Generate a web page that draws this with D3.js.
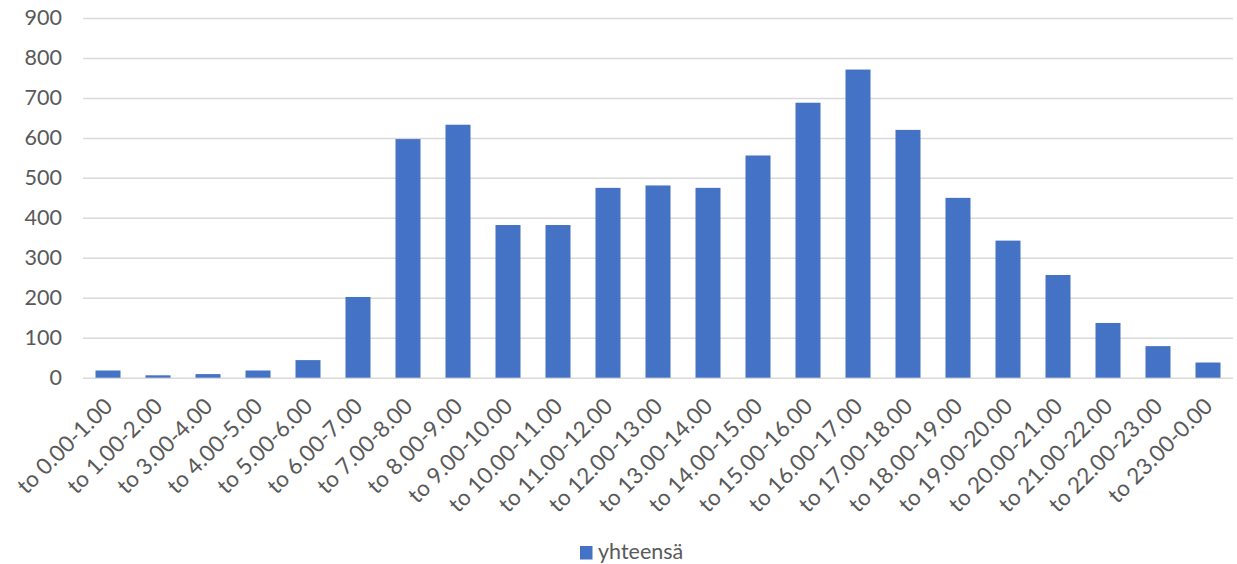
<!DOCTYPE html>
<html>
<head>
<meta charset="utf-8">
<script src="https://cdn.jsdelivr.net/npm/d3@7"></script>
<style>
  html, body { margin: 0; padding: 0; background: #fff; }
  svg { display: block; font-family: Lato, "Open Sans", sans-serif; }
</style>
</head>
<body>
<svg id="chart" width="1237" height="564"></svg>
<script>
// Hourly totals
const categories = [
  "to 0.00-1.00", "to 1.00-2.00", "to 3.00-4.00", "to 4.00-5.00", "to 5.00-6.00",
  "to 6.00-7.00", "to 7.00-8.00", "to 8.00-9.00", "to 9.00-10.00", "to 10.00-11.00",
  "to 11.00-12.00", "to 12.00-13.00", "to 13.00-14.00", "to 14.00-15.00", "to 15.00-16.00",
  "to 16.00-17.00", "to 17.00-18.00", "to 18.00-19.00", "to 19.00-20.00", "to 20.00-21.00",
  "to 21.00-22.00", "to 22.00-23.00", "to 23.00-0.00"
];
const values = [
  18, 6, 9, 18, 44,
  202, 597, 633, 382, 382,
  475, 481, 475, 556, 688,
  771, 620, 450, 343, 257,
  137, 79, 38
];
const yTicks = [0, 100, 200, 300, 400, 500, 600, 700, 800, 900];
const seriesName = "yhteensä";

const svg = d3.select("#chart");
const margin = { left: 83, right: 4, top: 18, bottom: 187 };
const W = 1237, H = 564;
const barColor = "#4472C4";
const textColor = "#595959";
const gridColor = "#d9d9d9";
const fontSize = 21.5;

const x = d3.scaleBand()
  .domain(categories)
  .range([margin.left, W - margin.right])
  .paddingInner(0.5)
  .paddingOuter(0.25);

const y = d3.scaleLinear()
  .domain([0, 900])
  .range([H - margin.bottom + 0.7, margin.top]);

// Horizontal gridlines and value labels
const yAxis = d3.axisLeft(y)
  .tickValues(yTicks)
  .tickSize(-(W - margin.right - margin.left))
  .tickPadding(21);

const gy = svg.append("g")
  .attr("transform", `translate(${margin.left},0)`)
  .call(yAxis);
gy.select(".domain").remove();
gy.selectAll(".tick line").attr("stroke", gridColor).attr("stroke-width", 1.5);
gy.selectAll(".tick text")
  .attr("fill", textColor)
  .attr("font-size", fontSize)
  .attr("font-family", "Lato, sans-serif");

// Bars
svg.append("g")
  .selectAll("rect")
  .data(values)
  .join("rect")
  .attr("x", (d, i) => x(categories[i]))
  .attr("width", x.bandwidth())
  .attr("y", d => y(d))
  .attr("height", d => y(0) - y(d))
  .attr("fill", barColor);

// Category axis with rotated labels
const xAxis = d3.axisBottom(x).tickSize(0).tickPadding(0);
const gx = svg.append("g")
  .attr("transform", `translate(0,${y(0)})`)
  .call(xAxis);
gx.select(".domain").remove();
gx.selectAll(".tick text")
  .attr("fill", textColor)
  .attr("font-size", 22.5)
  .attr("font-family", "Lato, sans-serif")
  .attr("text-anchor", "end")
  .attr("dy", 0)
  .attr("transform", "translate(6,30) rotate(-45)");

// Legend
const legend = svg.append("g").attr("transform", "translate(580,546)");
legend.append("rect")
  .attr("width", 12.5).attr("height", 13.5)
  .attr("fill", barColor);
legend.append("text")
  .attr("x", 18).attr("y", 13)
  .attr("fill", textColor)
  .attr("font-size", fontSize)
  .text(seriesName);
</script>
</body>
</html>
